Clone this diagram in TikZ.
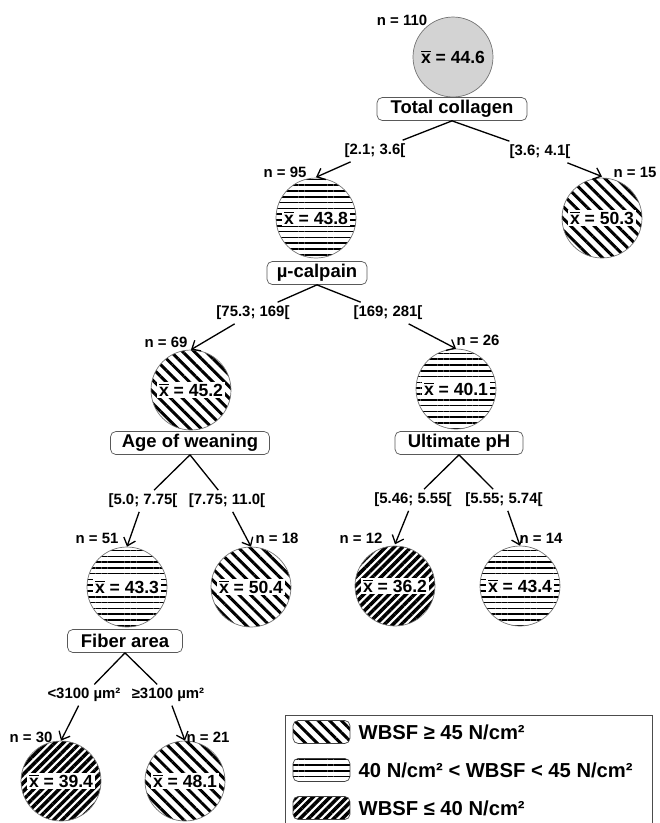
\documentclass[tikz,border=0pt]{standalone}
\usepackage{fontspec}
\setmainfont{Liberation Sans}
\usetikzlibrary{arrows.meta,patterns.meta,positioning}
\definecolor{rootgray}{RGB}{211,211,211}
\newcommand{\xbar}{$\overline{\hbox{x}}$}

\begin{document}
\begin{tikzpicture}[x=0.02cm, y=-0.02cm,
    splitbox/.style={rectangle, rounded corners=3pt, draw=black!65, fill=white, minimum height=0.46cm, inner sep=1pt, font=\bfseries\fontsize{10.5}{12}\selectfont},
    leaf/.style={circle, draw=black!55, minimum size=1.6cm, inner sep=0pt},
    highshear/.style={pattern={Lines[angle=-45,distance=4.7pt,line width=1.7pt]}},
    midshear/.style={pattern={Lines[angle=0,distance=3.3pt,line width=0.9pt]}},
    lowshear/.style={pattern={Lines[angle=45,distance=3.4pt,line width=2pt]}},
    meanlab/.style={fill=white, inner sep=1pt, font=\bfseries\fontsize{10}{12}\selectfont},
    countlab/.style={inner sep=1pt, font=\bfseries\fontsize{8.5}{10}\selectfont},
    cutlab/.style={inner sep=2pt, font=\bfseries\fontsize{8.5}{10}\selectfont},
    edge/.style={-{Straight Barb[length=4pt,width=7pt]}, line width=0.75pt},
    swatch/.style={rectangle, rounded corners=3pt, draw=black!75, minimum width=1.14cm, minimum height=0.46cm, inner sep=0pt},
    keytext/.style={anchor=west, inner sep=0pt, font=\bfseries\fontsize{11.5}{13}\selectfont}
]
\useasboundingbox (0,0) rectangle (660,823);

% Root
\node[leaf, fill=rootgray] (node110) at (453,57) {};
\node[meanlab, fill=none] (mean110) at (node110.center) {\xbar\ = 44.6};
\node[countlab] (cnt110) at (402,20) {n = 110};
\node[splitbox, minimum width=3cm] (collagen) at (452,109) {Total collagen};

% Second level
\node[leaf, midshear] (node95) at (316,218) {};
\node[meanlab] (mean95) at (node95.center) {\xbar\ = 43.8};
\node[countlab] (cnt95) at (285,172) {n = 95};
\node[leaf, highshear] (node15) at (602,218) {};
\node[meanlab] (mean15) at (node15.center) {\xbar\ = 50.3};
\node[countlab] (cnt15) at (635,172) {n = 15};
\node[cutlab] (cutA) at (375,151) {[2.1; 3.6[};
\node[cutlab] (cutB) at (540,152) {[3.6; 4.1[};
\draw[edge] (collagen.south) -- (cutA) -- (node95.north);
\draw[edge] (collagen.south) -- (cutB) -- (node15.north);
\node[splitbox, minimum width=2cm] (calpain) at (317,273) {µ-calpain};

% Third level
\node[leaf, highshear] (node69) at (191,390) {};
\node[meanlab] (mean69) at (node69.center) {\xbar\ = 45.2};
\node[countlab] (cnt69) at (166,342) {n = 69};
\node[leaf, midshear] (node26) at (456,389) {};
\node[meanlab] (mean26) at (node26.center) {\xbar\ = 40.1};
\node[countlab] (cnt26) at (478,340) {n = 26};
\node[cutlab] (cutC) at (253,313) {[75.3; 169[};
\node[cutlab] (cutD) at (388,313) {[169; 281[};
\draw[edge] (calpain.south) -- (cutC) -- (node69.north);
\draw[edge] (calpain.south) -- (cutD) -- (node26.north);
\node[splitbox, minimum width=3.18cm] (weaning) at (190,443) {Age of weaning};
\node[splitbox, minimum width=2.56cm] (ph) at (459,443) {Ultimate pH};

% Fourth level
\node[leaf, midshear] (node51) at (127,587) {};
\node[meanlab] (mean51) at (node51.center) {\xbar\ = 43.3};
\node[countlab] (cnt51) at (97,538) {n = 51};
\node[leaf, highshear] (node18) at (251,587) {};
\node[meanlab] (mean18) at (node18.center) {\xbar\ = 50.4};
\node[countlab] (cnt18) at (277,538) {n = 18};
\node[leaf, lowshear] (node12) at (395,586) {};
\node[meanlab] (mean12) at (node12.center) {\xbar\ = 36.2};
\node[countlab] (cnt12) at (361,538) {n = 12};
\node[leaf, midshear] (node14) at (520,586) {};
\node[meanlab] (mean14) at (node14.center) {\xbar\ = 43.4};
\node[countlab] (cnt14) at (541,538) {n = 14};
\node[cutlab] (cutE) at (143,501) {[5.0; 7.75[};
\node[cutlab] (cutF) at (227,501) {[7.75; 11.0[};
\node[cutlab] (cutG) at (413,500) {[5.46; 5.55[};
\node[cutlab] (cutH) at (504,500) {[5.55; 5.74[};
\draw[edge] (weaning.south) -- (cutE) -- (node51.north);
\draw[edge] (weaning.south) -- (cutF) -- (node18.north);
\draw[edge] (ph.south) -- (cutG) -- (node12.north);
\draw[edge] (ph.south) -- (cutH) -- (node14.north);
\node[splitbox, minimum width=2.3cm] (fiber) at (125,641) {Fiber area};

% Fifth level
\node[leaf, lowshear] (node30) at (61,781) {};
\node[meanlab] (mean30) at (node30.center) {\xbar\ = 39.4};
\node[countlab] (cnt30) at (31,737) {n = 30};
\node[leaf, highshear] (node21) at (185,781) {};
\node[meanlab] (mean21) at (node21.center) {\xbar\ = 48.1};
\node[countlab] (cnt21) at (208,737) {n = 21};
\node[cutlab] (cutI) at (84,695) {<3100 µm²};
\node[cutlab] (cutJ) at (168,695) {≥3100 µm²};
\draw[edge] (fiber.south) -- (cutI) -- (node30.north);
\draw[edge] (fiber.south) -- (cutJ) -- (node21.north);

% Legend
\draw[black!70] (285,826) -- (285,715) -- (652,715) -- (652,826);
\node[swatch, highshear] (keyhigh) at (321.5,732) {};
\node[swatch, midshear] (keymid) at (321.5,770) {};
\node[swatch, lowshear] (keylow) at (321.5,808) {};
\node[keytext, right=0.16cm of keyhigh] (texthigh) {WBSF ≥ 45 N/cm²};
\node[keytext, right=0.16cm of keymid] (textmid) {40 N/cm² < WBSF < 45 N/cm²};
\node[keytext, right=0.16cm of keylow] (textlow) {WBSF ≤ 40 N/cm²};

\end{tikzpicture}
\end{document}
